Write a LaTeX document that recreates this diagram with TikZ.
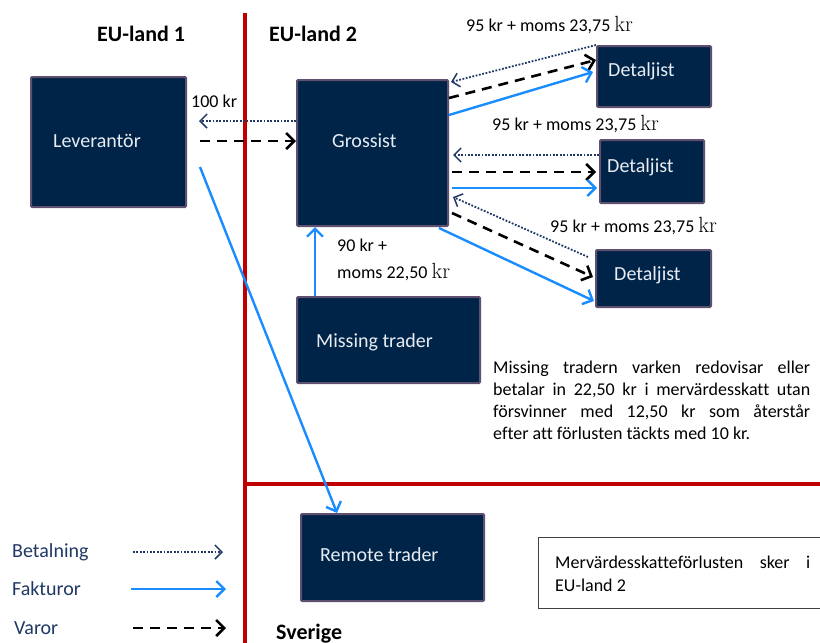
\documentclass[tikz,border=0pt]{standalone}
\usepackage{fontspec}
\setsansfont{Carlito}[Ligatures=NoCommon]
\usetikzlibrary{arrows.meta,calc}
\definecolor{navybox}{RGB}{0,36,72}
\definecolor{boxline}{RGB}{96,80,112}
\definecolor{redline}{RGB}{192,0,0}
\definecolor{fblue}{RGB}{25,140,255}
\definecolor{paynavy}{RGB}{31,56,100}
\definecolor{boxtxt}{RGB}{232,236,242}
\newcommand\skr{{\rmfamily\fontsize{22}{24}\selectfont kr}}
\begin{document}
\begin{tikzpicture}[x=1pt,y=-1pt,font=\sffamily,
 box/.style={draw=boxline,line width=2pt,fill=navybox,rounded corners=1pt,anchor=north west,inner sep=0pt},
 boxtext/.style={text=boxtxt,font=\sffamily\fontsize{20}{24}\selectfont,anchor=west,inner sep=0pt},
 lbl/.style={font=\sffamily\fontsize{18}{22}\selectfont,anchor=base west,inner sep=0pt},
 head/.style={font=\sffamily\bfseries\fontsize{22}{26}\selectfont,anchor=base west,inner sep=0pt},
 legtext/.style={text=paynavy,font=\sffamily\fontsize{20}{24}\selectfont,anchor=west,inner sep=0pt},
 pay/.style={draw=paynavy,line width=1.8pt,dash pattern=on 1.8pt off 1.6pt,-{Straight Barb[length=7pt,width=14pt,line width=1.5pt]}},
 inv/.style={draw=fblue,line width=2.4pt,-{Straight Barb[length=8pt,width=16pt]}},
 goods/.style={draw=black,line width=2.6pt,dash pattern=on 10pt off 7pt,-{Straight Barb[length=8pt,width=16pt]}},
 border/.style={draw=redline,line width=4.5pt},
]
\useasboundingbox (0,0) rectangle (820,643);
% borders
\draw[border] (245,13) -- (245,643);
\draw[border] (245,484) -- (820,484);
% headings
\node[head] (h1) at (97,41) {EU-land 1};
\node[head] (h2) at (269,41) {EU-land 2};
\node[head] (h3) at (276,639) {Sverige};
% boxes
\node[box,minimum width=155,minimum height=130] (lev) at (30,76) {};
\node[box,minimum width=151,minimum height=146] (gro) at (296,79) {};
\node[box,minimum width=183,minimum height=86] (mt) at (296,296) {};
\node[box,minimum width=183,minimum height=87] (rem) at (300,513) {};
\node[box,minimum width=114,minimum height=61] (d1) at (596,45) {};
\node[box,minimum width=104,minimum height=63] (d2) at (599,139) {};
\node[box,minimum width=115,minimum height=57] (d3) at (595,249) {};
\node[boxtext] (levt) at (53,141) {Leverantör};
\node[boxtext] (grot) at (332,141) {Grossist};
\node[boxtext] (mtt) at (316,342) {Missing trader};
\node[boxtext] (remt) at (320,555) {Remote trader};
\node[boxtext] (d1t) at (608,71) {Detaljist};
\node[boxtext] (d2t) at (607,167) {Detaljist};
\node[boxtext] (d3t) at (614,275) {Detaljist};
% labels
\node[lbl] (l1) at (466,31) {95 kr + moms 23,75 \skr};
\node[lbl] (l2) at (492,130) {95 kr + moms 23,75 \skr};
\node[lbl] (l3) at (550,232) {95 kr + moms 23,75 \skr};
\node[lbl] (l4) at (191,107) {100 kr};
\node[lbl] (l5) at (337,251) {90 kr +};
\node[lbl] (l6) at (337,278) {moms 22,50 \skr};
% connectors leverantor / grossist
\draw[pay] (gro.west |- 0,121) -- ($(lev.east |- 0,121)+(12,0)$);
\draw[goods] ($(lev.east |- 0,141)+(13,0)$) -- (gro.west |- 0,141);
\draw[inv] ($(lev.east |- 0,167)+(13,0)$) -- (rem.north -| 337,0);
\draw[inv] (mt.north -| 315,0) -- (gro.south -| 315,0);
% detaljist 1
\draw[pay] (d1.north west) -- ($(gro.north east)+(2,3)$);
\draw[goods] (gro.east |- 0,98) -- (d1.west |- 0,60);
\draw[inv] (gro.east |- 0,115) -- ($(d1.west |- 0,72)+(-3,0)$);
% detaljist 2
\draw[pay] (d2.west |- 0,155) -- ($(gro.east |- 0,155)+(4,0)$);
\draw[goods] ($(gro.east |- 0,172)+(3,0)$) -- ($(d2.west |- 0,172)+(-3,0)$);
\draw[inv] ($(gro.east |- 0,188)+(3,0)$) -- ($(d2.west |- 0,188)+(-2,0)$);
% detaljist 3
\draw[pay] ($(d3.north west)+(-7,8)$) -- ($(gro.east |- 0,197)+(4,0)$);
\draw[goods] ($(gro.east |- 0,213)+(3,0)$) -- ($(d3.west |- 0,277)+(-2,0)$);
\draw[inv] ($(gro.south east)+(-10,1)$) -- ($(d3.west |- 0,301)+(-1,0)$);
% paragraph
\node[lbl,text width=317pt,align=justify,font=\sffamily\fontsize{18}{22.3}\selectfont] (para) at (493,373)
 {Missing tradern varken redovisar eller\linebreak betalar in 22,50 kr i mervärdesskatt utan\linebreak försvinner med 12,50 kr som återstår\linebreak efter att förlusten täckts med 10 kr.};
% note box
\node[draw=black!75,line width=0.8pt,anchor=north west,minimum width=282,minimum height=71,inner sep=0pt] (note) at (538,537) {};
\node[lbl,text width=255pt,align=justify,font=\sffamily\fontsize{18}{23}\selectfont] (notet) at (555,568)
 {Mervärdesskatteförlusten sker i\linebreak EU-land 2};
% legend
\node[legtext] (lb) at (12,552) {Betalning};
\node[legtext] (lf) at (12,589) {Fakturor};
\node[legtext] (lv) at (14,628) {Varor};
\coordinate (pb1) at (133,552); \coordinate (pb2) at (223,552);
\coordinate (pf1) at (131,589); \coordinate (pf2) at (226,589);
\coordinate (pv1) at (133,628); \coordinate (pv2) at (226,628);
\draw[pay] (pb1) -- (pb2);
\draw[inv] (pf1) -- (pf2);
\draw[goods] (pv1) -- (pv2);
\end{tikzpicture}
\end{document}
